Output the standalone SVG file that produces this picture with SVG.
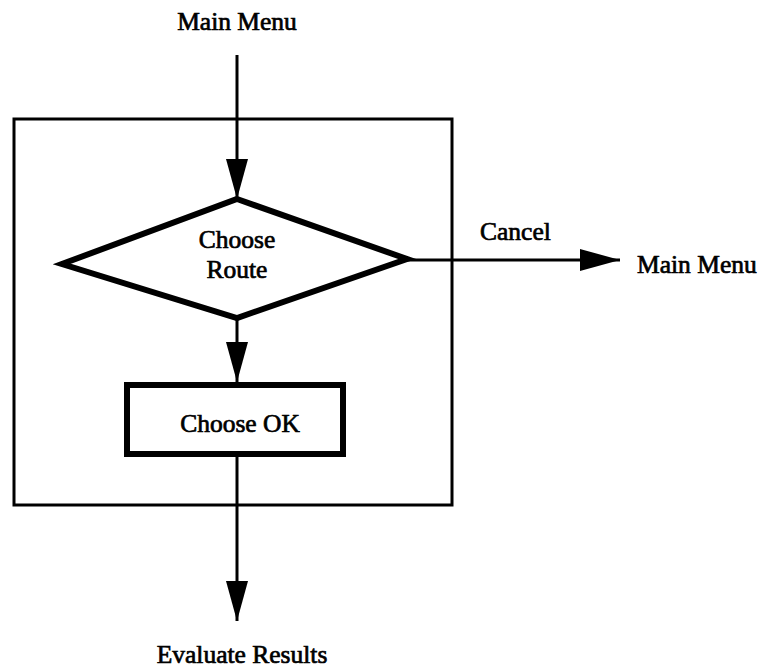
<svg xmlns="http://www.w3.org/2000/svg" width="775" height="668" viewBox="0 0 775 668">
  <style>
    .lbl { font-family: "Liberation Serif", "Times New Roman", serif; font-size: 25.5px; fill: #000; stroke: #000; stroke-width: 0.7px; }
    .thin { fill: none; stroke: #000; stroke-width: 3; }
    .thick { fill: #fff; stroke: #000; stroke-width: 6; stroke-linejoin: miter; }
  </style>
  <defs>
    <marker id="arrow" markerUnits="userSpaceOnUse" markerWidth="40" markerHeight="22" refX="40" refY="11" orient="auto">
      <path d="M0,0 L40,11 L0,22 Z" fill="#000"/>
    </marker>
  </defs>
  <rect width="775" height="668" fill="#fff"/>

  <!-- enclosing frame -->
  <g id="frame">
    <rect x="14" y="119" width="438" height="386" class="thin"/>
  </g>

  <!-- connectors -->
  <g id="connectors">
    <line x1="237" y1="55" x2="237" y2="199" class="thin" marker-end="url(#arrow)"/>
    <line x1="407" y1="260" x2="620" y2="260" class="thin" marker-end="url(#arrow)"/>
    <line x1="237" y1="318" x2="237" y2="382" class="thin" marker-end="url(#arrow)"/>
    <line x1="237" y1="456" x2="237" y2="621" class="thin" marker-end="url(#arrow)"/>
  </g>

  <g id="choose-route">
    <polygon points="237,199 407,259 237,318 62,264" class="thick"/>
    <text class="lbl" x="237" y="248" text-anchor="middle">Choose</text>
    <text class="lbl" x="237" y="278" text-anchor="middle">Route</text>
  </g>

  <g id="choose-ok">
    <rect x="127" y="385" width="216" height="69" class="thick"/>
    <text class="lbl" x="240" y="432" text-anchor="middle">Choose OK</text>
  </g>

  <g id="main-menu-top">
    <text class="lbl" x="237" y="30" text-anchor="middle">Main Menu</text>
  </g>

  <g id="cancel-label">
    <text class="lbl" x="480" y="240">Cancel</text>
  </g>

  <g id="main-menu-right">
    <text class="lbl" x="637" y="273">Main Menu</text>
  </g>

  <g id="evaluate-results">
    <text class="lbl" x="242" y="663" text-anchor="middle">Evaluate Results</text>
  </g>
</svg>
